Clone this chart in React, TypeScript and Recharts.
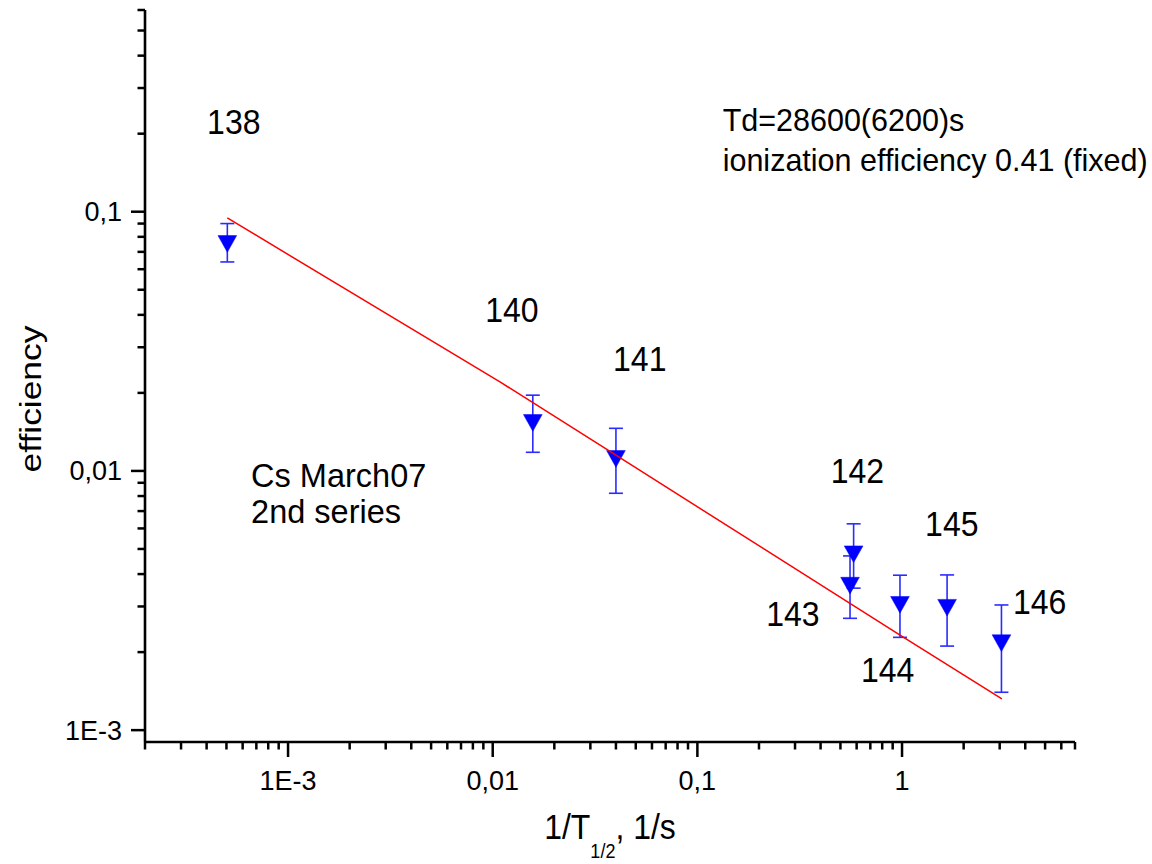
import React from 'react';
import { ScatterChart, Scatter, XAxis, YAxis, ErrorBar, ReferenceDot } from 'recharts';

// ---- data ----
const isotopes = ['138', '140', '141', '142', '143', '144', '145', '146'];
const inverseHalfLife = [5.05e-4, 0.0157, 0.04, 0.58, 0.557, 0.977, 1.66, 3.06];
const efficiency = [0.077, 0.0157, 0.0114, 0.00489, 0.0037, 0.00312, 0.00304, 0.00222];
const efficiencyError = [0.013, 0.0039, 0.0032, 0.00136, 0.001, 0.00084, 0.00093, 0.00082];

const fitX = [5.05e-4, 0.0109, 0.04, 1, 3.075];
const fitY = [0.0946, 0.022, 0.0115, 0.0023, 0.00132];

// axis ticks
const xMajorTicks = [1e-3, 0.01, 0.1, 1];
const xMajorLabels = ['1E-3', '0,01', '0,1', '1'];
const xMinorTicks = [
  2e-4, 3e-4, 4e-4, 5e-4, 6e-4, 7e-4, 8e-4, 9e-4,
  2e-3, 3e-3, 4e-3, 5e-3, 6e-3, 7e-3, 8e-3, 9e-3,
  0.02, 0.03, 0.04, 0.05, 0.06, 0.07, 0.08, 0.09,
  0.2, 0.3, 0.4, 0.5, 0.6, 0.7, 0.8, 0.9,
  2, 3, 4, 5, 6, 7,
];
const yMajorTicks = [1e-3, 0.01, 0.1];
const yMajorLabels = ['1E-3', '0,01', '0,1'];
const yMinorTicks = [
  2e-3, 3e-3, 4e-3, 5e-3, 6e-3, 7e-3, 8e-3, 9e-3,
  0.02, 0.03, 0.04, 0.05, 0.06, 0.07, 0.08, 0.09,
  0.2, 0.3, 0.4, 0.5, 0.6,
];

const xDomain = [2e-4, 7];
const yDomain = [9e-4, 0.6];

// annotation anchors (data coordinates, text baseline centre)
const labelX = [5.43e-4, 0.0124, 0.0523, 0.605, 0.2926, 0.851, 1.75, 4.7];
const labelY = [0.2, 0.0377, 0.0242, 0.00895, 0.00252, 0.00153, 0.00561, 0.0028];

const noteFitLines = ['Td=28600(6200)s', 'ionization efficiency 0.41 (fixed)'];
const noteFitAnchor = { x: 0.1329, y: 0.204 };
const noteRunLines = ['Cs March07', '2nd series'];
const noteRunAnchor = { x: 6.6e-4, y: 0.00869 };

const FONT = '"Liberation Sans", Arial, Helvetica, sans-serif';

const points = isotopes.map((iso, i) => ({
  iso,
  x: inverseHalfLife[i],
  y: efficiency[i],
  err: efficiencyError[i],
}));
const fit = fitX.map((x, i) => ({ x, y: fitY[i] }));

const xTicks = [...xMinorTicks, ...xMajorTicks].sort((a, b) => a - b);
const yTicks = [...yMinorTicks, ...yMajorTicks].sort((a, b) => a - b);

const findIdx = (arr: number[], v: number) => arr.findIndex((t) => Math.abs(t - v) < t * 1e-6);

const XTick = (props: any) => {
  const { x, y, payload } = props;
  const idx = findIdx(xMajorTicks, payload.value);
  const major = idx >= 0;
  return (
    <g>
      <line x1={x} x2={x} y1={y} y2={y + (major ? 15 : 7.5)} stroke="#000" strokeWidth={2.5} />
      {major && (
        <text x={x} y={y + 48} textAnchor="middle" fontSize={27} fontFamily={FONT} fill="#000">
          {xMajorLabels[idx]}
        </text>
      )}
    </g>
  );
};

const YTick = (props: any) => {
  const { x, y, payload } = props;
  const idx = findIdx(yMajorTicks, payload.value);
  const major = idx >= 0;
  return (
    <g>
      <line x1={x - (major ? 14 : 7.5)} x2={x} y1={y} y2={y} stroke="#000" strokeWidth={2.5} />
      {major && (
        <text x={x - 23} y={y + 9.5} textAnchor="end" fontSize={27} fontFamily={FONT} fill="#000">
          {yMajorLabels[idx]}
        </text>
      )}
    </g>
  );
};

const Triangle = (props: any) => {
  const { cx, cy } = props;
  const w = 18.7;
  const h = 16.7;
  const pts = `${cx - w / 2},${cy - h / 3} ${cx + w / 2},${cy - h / 3} ${cx},${cy + (2 * h) / 3}`;
  return <polygon points={pts} fill="#0000ff" stroke="#0000ff" strokeWidth={0.5} />;
};

const Empty = () => <g />;

const numberLabel = (text: string) => (p: any) => (
  <g transform={`translate(${p.cx},${p.cy}) scale(1,1.1)`}>
    <text x={0} y={0} textAnchor="middle" fontSize={32} fontFamily={FONT} fill="#000">
      {text}
    </text>
  </g>
);

const blockLabel = (lines: string[], size: number, gap: number) => (p: any) => (
  <text x={p.cx} y={p.cy} textAnchor="start" fontSize={size} fontFamily={FONT} fill="#000">
    {lines.map((l, i) => (
      <tspan key={i} x={p.cx} dy={i === 0 ? 0 : gap}>
        {l}
      </tspan>
    ))}
  </text>
);

const W = 1152;
const H = 864;

export default function App() {
  return (
    <div
      style={{
        position: 'absolute',
        left: 0,
        top: 0,
        width: W,
        height: H,
        background: '#fff',
        overflow: 'hidden',
      }}
    >
      <ScatterChart width={W} height={H} margin={{ top: 10, right: 77, left: 144, bottom: 121 }}>
        <XAxis
          dataKey="x"
          type="number"
          scale="log"
          domain={xDomain}
          allowDataOverflow
          ticks={xTicks}
          interval={0}
          tick={<XTick />}
          tickLine={false}
          tickSize={0}
          tickMargin={0}
          height={1}
          axisLine={{ stroke: '#000', strokeWidth: 2.6 }}
        />
        <YAxis
          dataKey="y"
          type="number"
          scale="log"
          domain={yDomain}
          allowDataOverflow
          ticks={yTicks}
          interval={0}
          tick={<YTick />}
          tickLine={false}
          tickSize={0}
          tickMargin={0}
          width={1}
          axisLine={{ stroke: '#000', strokeWidth: 2.6 }}
        />
        <Scatter data={points} shape={Triangle} fill="#0000ff" isAnimationActive={false}>
          <ErrorBar
            dataKey="err"
            direction="y"
            width={7}
            stroke="#2b2bff"
            strokeWidth={1.6}
            isAnimationActive={false}
          />
        </Scatter>
        <Scatter
          data={fit}
          shape={Empty}
          line={{ stroke: '#ff0000', strokeWidth: 1.5 }}
          lineType="joint"
          isAnimationActive={false}
        />
        {isotopes.map((iso, i) => (
          <ReferenceDot
            key={iso}
            x={labelX[i]}
            y={labelY[i]}
            r={0}
            ifOverflow="visible"
            shape={numberLabel(iso)}
          />
        ))}
        <ReferenceDot
          x={noteFitAnchor.x}
          y={noteFitAnchor.y}
          r={0}
          ifOverflow="visible"
          shape={blockLabel(noteFitLines, 30.5, 40)}
        />
        <ReferenceDot
          x={noteRunAnchor.x}
          y={noteRunAnchor.y}
          r={0}
          ifOverflow="visible"
          shape={blockLabel(noteRunLines, 32.5, 36)}
        />
      </ScatterChart>
      <svg
        width={W}
        height={H}
        style={{ position: 'absolute', left: 0, top: 0, pointerEvents: 'none' }}
      >
        <g transform="translate(610,839) scale(1,1.12)">
          <text x={0} y={0} textAnchor="middle" fontSize={32} fontFamily={FONT} fill="#000">
            1/T
            <tspan fontSize={18} dy={17}>1/2</tspan>
            <tspan dy={-17}>, 1/s</tspan>
          </text>
        </g>
        <g transform="translate(41,399) rotate(-90) scale(1.18,1)">
          <text x={0} y={0} textAnchor="middle" fontSize={30} fontFamily={FONT} fill="#000">
            efficiency
          </text>
        </g>
      </svg>
    </div>
  );
}
